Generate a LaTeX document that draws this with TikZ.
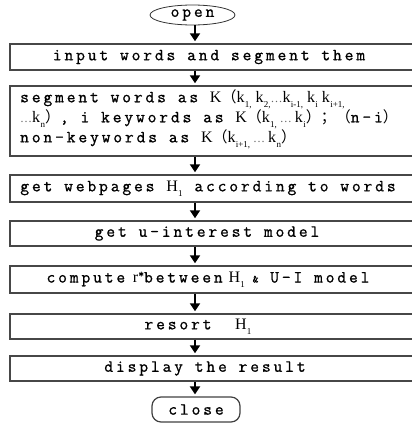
\documentclass[tikz,border=0pt]{standalone}
\usepackage{fontspec}
\usetikzlibrary{arrows.meta,shapes.geometric}
\newfontfamily\ttx{Latin Modern Mono}[LetterSpace=17, FakeBold=1]
\newfontfamily\srf{Liberation Serif}
\newfontfamily\cjk{Noto Sans CJK SC}
% serif letter with a small lowered index
\newcommand\kx[2][k]{{\srf\fontsize{16}{19}\selectfont #1\kern0.3pt\raisebox{-0.3em}{\fontsize{9}{9}\selectfont #2}}}
\newcommand\bigK{{\srf\fontsize{16}{19}\selectfont K}}
\newcommand\lp{{\cjk\fontsize{15}{19}\selectfont （}}
\newcommand\rp{{\cjk\fontsize{15}{19}\selectfont ）}}
\newcommand\dd{{\srf\fontsize{12}{19}\selectfont\color{black!60}\dots}}
\newcommand\widespaces{\spaceskip=11.8pt\relax}
\tikzset{
  box/.style={draw=black!72, line width=1.4pt, minimum width=406pt, inner sep=0pt},
  txt/.style={font=\ttx\fontsize{17}{19}\selectfont, execute at begin node=\widespaces, inner sep=0pt},
  arr/.style={line width=1.8pt, -{Triangle[width=10pt,length=8pt]}, shorten >=2pt},
}
\begin{document}
\begin{tikzpicture}[x=1pt,y=-1pt]
\useasboundingbox (0,0) rectangle (412,423);
\coordinate (ax) at (195,0);
% terminals
\node[ellipse, draw=black!80, line width=0.8pt, minimum width=85pt, minimum height=20pt, inner sep=0pt, txt] (open) at (192.5,15) {open};
\node[draw=black!75, line width=1.2pt, rounded corners=9pt, minimum width=88pt, minimum height=25pt, inner sep=0pt, txt] (close) at (196,409.5) {close};
% process boxes
\node[box, minimum height=26pt] (b1) at (213,57) {};
\node[box, minimum height=70pt] (b2) at (213,121) {};
\node[box, minimum height=27pt] (b3) at (213,188.5) {};
\node[box, minimum height=25pt] (b4) at (213,233.5) {};
\node[box, minimum height=27pt] (b5) at (213,279.5) {};
\node[box, minimum height=25pt] (b6) at (213,326.5) {};
\node[box, minimum height=25pt] (b7) at (213,368.5) {};
% box texts
\node[txt] (t1) at (209,57) {input words and segment them};
\node[txt, align=left, anchor=west] (t2) at (20,119) {segment words as \bigK\lp\kx{1,}\hspace{4pt}\kx{2,}\dd\kx{i-1,}\hspace{4pt}\kx{i}\hspace{4pt}\kx{i+1,}\\
\dd\kx{n}\rp, i keywords as \bigK\lp\kx{1,}\hspace{3pt}\dd\hspace{3pt}\kx{i}\rp{\cjk\fontsize{15}{19}\selectfont ；}\lp n-i\rp\\
non-keywords as \bigK\lp\kx{i+1,}\hspace{3pt}\dd\hspace{3pt}\kx{n}\rp};
\node[txt] (t3) at (208,188.5) {get webpages \kx[H]{1} according to words};
\node[txt] (t4) at (207,233.5) {get u-interest model};
\node[txt] (t5) at (208,279.5) {compute\hspace{-4pt} {\srf\fontsize{16}{19}\selectfont r}\raisebox{0.3em}{\fontsize{11}{11}\selectfont*}between\hspace{-6pt} \kx[H]{1}\hspace{-4pt} {\fontsize{11}{11}\selectfont\&} U-I model};
\node[txt] (t6) at (198,326.5) {resort\ \ \kx[H]{1}};
\node[txt] (t7) at (205,368.5) {display the result};
% flow
\draw[arr] (open.south -| ax) -- (b1.north -| ax);
\draw[arr] (b1.south -| ax) -- (b2.north -| ax);
\draw[arr] (b2.south -| ax) -- (b3.north -| ax);
\draw[arr] (b3.south -| ax) -- (b4.north -| ax);
\draw[arr] (b4.south -| ax) -- (b5.north -| ax);
\draw[arr] (b5.south -| ax) -- (b6.north -| ax);
\draw[arr] (b6.south -| ax) -- (b7.north -| ax);
\draw[arr] (b7.south -| ax) -- (close.north -| ax);
\end{tikzpicture}
\end{document}
